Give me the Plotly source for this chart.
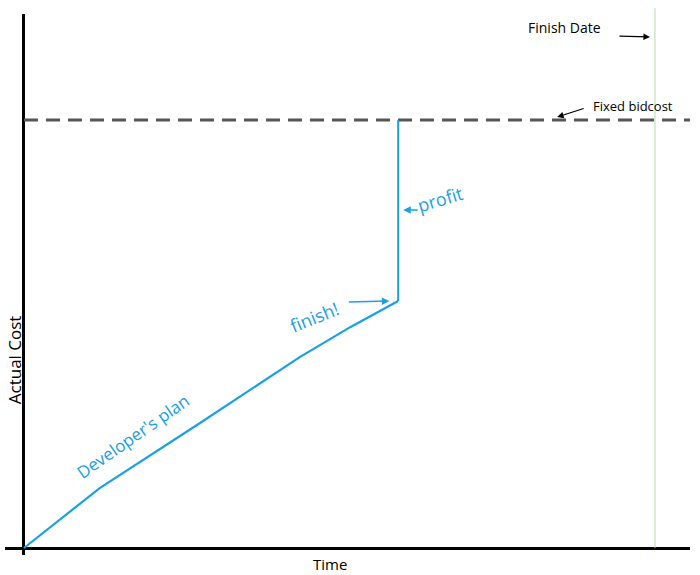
import plotly.graph_objects as go

# developer's plan: time vs actual cost
plan_time = [0, 1.20, 2.79, 4.37, 5.17, 5.93]
plan_cost = [0, 1.40, 2.92, 4.46, 5.16, 5.77]
bid_cost = 10
finish_date = 10

blue = "#1AA0E6"
font = "Open Sans"

fig = go.Figure()

# fixed bid cost
fig.add_trace(go.Scatter(
    x=[0, 10.6], y=[bid_cost, bid_cost],
    mode="lines", line=dict(color="#555555", width=3, dash="14px,8px"),
    hoverinfo="skip"
))

# plan line
fig.add_trace(go.Scatter(
    x=plan_time, y=plan_cost,
    mode="lines", line=dict(color=blue, width=2.2),
    hoverinfo="skip"
))

# profit gap
fig.add_trace(go.Scatter(
    x=[plan_time[-1], plan_time[-1]], y=[plan_cost[-1], bid_cost],
    mode="lines", line=dict(color=blue, width=2),
    hoverinfo="skip"
))

# finish date marker
fig.add_shape(type="line", xref="x", yref="paper",
              x0=finish_date, x1=finish_date, y0=0.013, y1=1.011,
              line=dict(color="#A8E4A8", width=1))

anns = [
    # arrows
    dict(x=finish_date - 0.08, y=11.94, ax=-32, ay=-1, text="", showarrow=True,
         arrowhead=2, arrowwidth=1.3, arrowcolor="black"),
    dict(x=8.45, y=bid_cost + 0.07, ax=28, ay=-9, text="", showarrow=True,
         arrowhead=2, arrowwidth=1.3, arrowcolor="black"),
    dict(x=plan_time[-1] - 0.14, y=plan_cost[-1], ax=-42, ay=1, text="", showarrow=True,
         arrowhead=2, arrowwidth=1.5, arrowcolor=blue),
    dict(x=plan_time[-1] + 0.08, y=7.9, ax=16, ay=0, text="", showarrow=True,
         arrowhead=2, arrowwidth=1.5, arrowcolor=blue),
    # labels
    dict(x=8.57, y=12.17, text="Finish Date", showarrow=False,
         font=dict(size=14, color="black", family=font)),
    dict(x=9.65, y=10.33, text="Fixed bidcost", showarrow=False,
         font=dict(size=13, color="black", family=font)),
    dict(x=4.6, y=5.4, text="finish!", showarrow=False, textangle=-22,
         font=dict(size=18, color=blue, family=font)),
    dict(x=6.6, y=8.15, text="profit", showarrow=False, textangle=-17,
         font=dict(size=18, color=blue, family=font)),
    dict(x=1.72, y=2.6, text="Developer's plan", showarrow=False, textangle=-35,
         font=dict(size=17, color=blue, family=font)),
    # axis titles
    dict(x=(14 - 5) / 685, xref="paper", xanchor="center", y=0.36, yref="paper",
         text="Actual Cost", showarrow=False, textangle=-90,
         font=dict(size=17, color="black", family=font)),
    dict(x=0.475, xref="paper", y=-0.0166, yref="paper", yanchor="middle",
         text="Time", showarrow=False,
         font=dict(size=15, color="black", family=font)),
]
for a in anns:
    if a.get("xref") is None:
        a["xref"] = "x"
        a["yref"] = "y"
fig.update_layout(annotations=anns)

fig.update_layout(
    width=700, height=575,
    margin=dict(l=5, r=10, t=14, b=20),
    paper_bgcolor="white", plot_bgcolor="white",
    showlegend=False,
    xaxis=dict(range=[-0.301, 10.555], showgrid=False, showticklabels=False,
               ticks="", zeroline=True, zerolinecolor="black", zerolinewidth=3),
    yaxis=dict(range=[-0.1636, 12.477], showgrid=False, showticklabels=False,
               ticks="", zeroline=True, zerolinecolor="black", zerolinewidth=3),
)

fig.write_html("out.html", config={"displayModeBar": False},
               post_script="document.body.style.margin='0';")
